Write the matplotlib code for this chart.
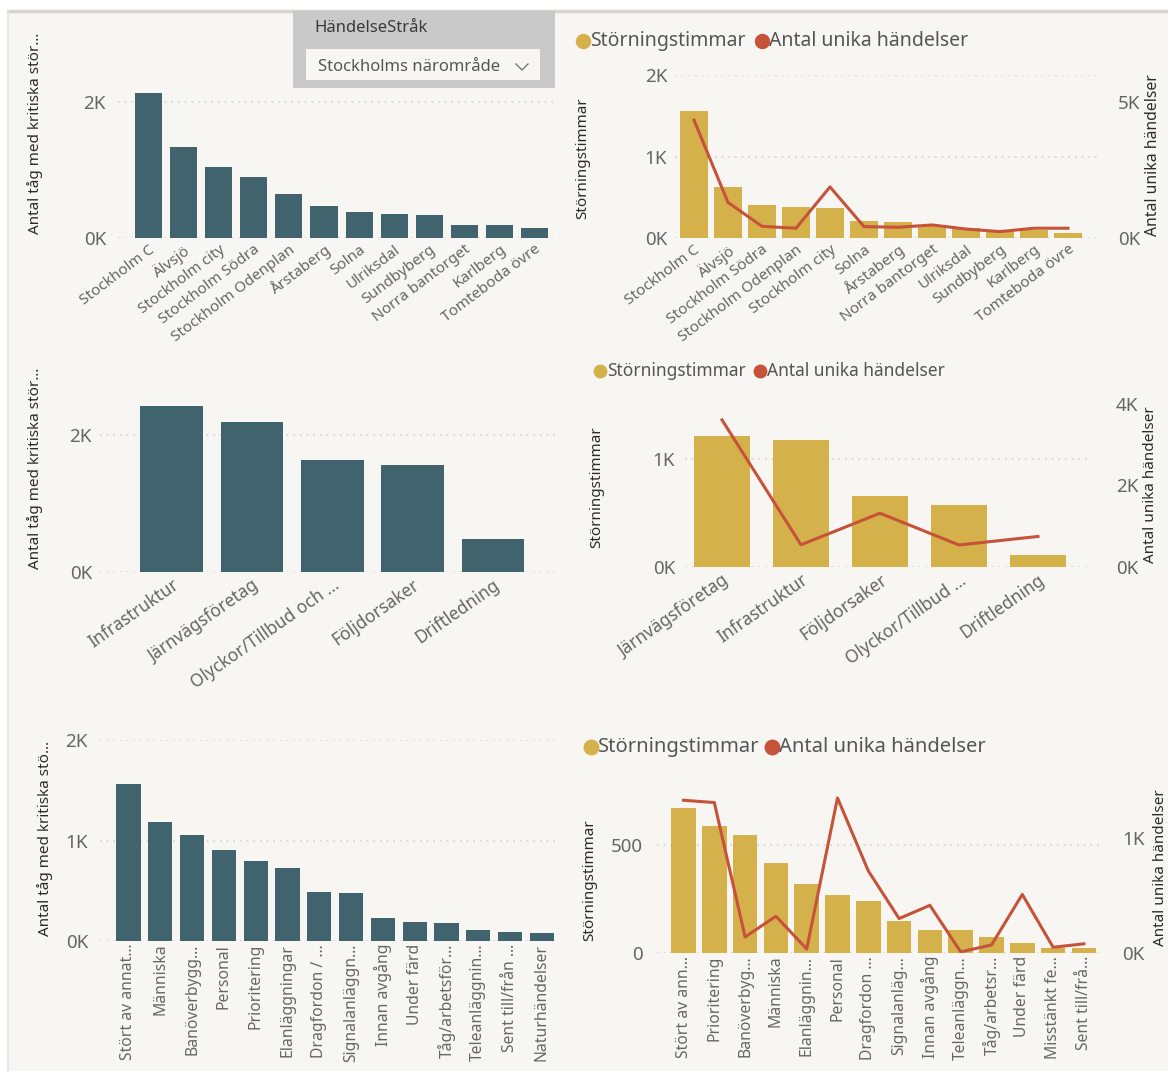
import matplotlib
matplotlib.use("Agg")
import matplotlib.pyplot as plt
from matplotlib.lines import Line2D
from matplotlib.patches import Rectangle
from matplotlib.ticker import FuncFormatter

plt.rcParams['font.family'] = ['Noto Sans', 'DejaVu Sans']

# Stations - trains with critical disturbances
tl_stations = ["Stockholm C", "Älvsjö", "Stockholm city", "Stockholm Södra", "Stockholm Odenplan",
               "Årstaberg", "Solna", "Ulriksdal", "Sundbyberg", "Norra bantorget", "Karlberg",
               "Tomteboda övre"]
tl_trains = [2130, 1340, 1050, 890, 640, 465, 380, 350, 345, 190, 185, 145]

# Stations - disturbance hours and unique events
tr_stations = ["Stockholm C", "Älvsjö", "Stockholm Södra", "Stockholm Odenplan", "Stockholm city",
               "Solna", "Årstaberg", "Norra bantorget", "Ulriksdal", "Sundbyberg", "Karlberg",
               "Tomteboda övre"]
tr_hours = [1560, 630, 410, 375, 370, 210, 195, 160, 125, 100, 100, 65]
tr_events = [4340, 1310, 430, 360, 1880, 420, 395, 480, 330, 235, 360, 360]

# Cause groups
ml_causes = ["Infrastruktur", "Järnvägsföretag", "Olyckor/Tillbud och …", "Följdorsaker", "Driftledning"]
ml_trains = [2430, 2200, 1635, 1560, 483]

mr_causes = ["Järnvägsföretag", "Infrastruktur", "Följdorsaker", "Olyckor/Tillbud …", "Driftledning"]
mr_hours = [1213, 1176, 660, 570, 112]
mr_events = [3610, 545, 1320, 540, 750]

# Detailed causes
bl_causes = ["Stört av annat…", "Människa", "Banöverbygg…", "Personal", "Prioritering",
             "Elanläggningar", "Dragfordon / …", "Signalanläggn…", "Innan avgång", "Under färd",
             "Tåg/arbetsför…", "Teleanläggnin…", "Sent till/från …", "Naturhändelser"]
bl_trains = [1562, 1184, 1055, 905, 796, 726, 488, 478, 229, 189, 179, 109, 90, 80]

br_causes = ["Stört av ann…", "Prioritering", "Banöverbyg…", "Människa", "Elanläggnin…",
             "Personal", "Dragfordon …", "Signalanläg…", "Innan avgång", "Teleanläggn…",
             "Tåg/arbetsr…", "Under färd", "Misstänkt fe…", "Sent till/frå…"]
br_hours = [670, 590, 545, 415, 322, 268, 242, 150, 108, 108, 72, 45, 24, 24]
br_events = [1330, 1310, 140, 320, 35, 1350, 715, 300, 415, 10, 70, 510, 50, 80]

W, H = 1168, 1075
BG = "#f8f6f2"
TEAL = "#41636d"
GOLD = "#d5b14c"
RED = "#c6523a"
TICK_GREY = "#666666"
LABEL_DARK = "#2b2b2b"
TICK_SIZE = 13.5

fig = plt.figure(figsize=(W / 100, H / 100), dpi=100, facecolor="white")


def fx(x):
    return x / W


def fy(y):
    return 1 - y / H


def add_ax(x0, y0, x1, y1):
    return fig.add_axes([fx(x0), fy(y1), (x1 - x0) / W, (y1 - y0) / H])


def k_fmt(v, pos):
    return f"{v / 1000:.0f}K"


def style(ax, yticks, pad_px, fmt=True):
    ax.set_facecolor("none")
    for s in ax.spines.values():
        s.set_visible(False)
    ax.tick_params(length=0, labelsize=TICK_SIZE, labelcolor=TICK_GREY)
    ax.tick_params(axis="y", pad=pad_px * 0.72)
    ax.set_yticks(yticks)
    if fmt:
        ax.yaxis.set_major_formatter(FuncFormatter(k_fmt))
    ax.grid(axis="y", color="#d2d2d2", linestyle=(0, (1, 3)), linewidth=1.2)
    ax.set_axisbelow(True)


def xrange_for(x0, x1, first_center, pitch):
    lo = -(first_center - x0) / pitch
    return lo, lo + (x1 - x0) / pitch


def xlabels(ax, labels, rot, size):
    ax.set_xticks(range(len(labels)))
    if rot == 90:
        ax.set_xticklabels(labels, rotation=90, ha="center", va="top", color=TICK_GREY,
                           fontsize=size)
        ax.tick_params(axis="x", pad=2)
    else:
        ax.set_xticklabels(labels, rotation=rot, ha="right", va="top",
                           rotation_mode="anchor", color=TICK_GREY, fontsize=size)
        ax.tick_params(axis="x", pad=3)


def right_axis(ax, ylim, ticks, pad_px):
    ax2 = ax.twinx()
    ax2.set_ylim(*ylim)
    ax2.set_yticks(ticks)
    ax2.yaxis.set_major_formatter(FuncFormatter(k_fmt))
    ax2.tick_params(length=0, labelsize=TICK_SIZE, labelcolor=TICK_GREY, pad=pad_px * 0.72)
    for s in ax2.spines.values():
        s.set_visible(False)
    return ax2


def ylabel(x, y, text, size=11):
    fig.text(fx(x), fy(y), text, rotation=90, ha="center", va="center",
             fontsize=size, color=LABEL_DARK, fontweight="semibold")


def legend_row(y, x_gold, x_red, size):
    for xc, col, txt in [(x_gold, GOLD, "Störningstimmar"), (x_red, RED, "Antal unika händelser")]:
        fig.add_artist(Line2D([fx(xc)], [fy(y)], marker="o", markersize=size * 0.72,
                              color=col, transform=fig.transFigure))
        fig.text(fx(xc + 7), fy(y), txt, fontsize=size, color="#555555",
                 va="center", ha="left")


# page background and borders
fig.patches.append(Rectangle((fx(8), fy(1071)), 1 - fx(8), fy(12) - fy(1071),
                             transform=fig.transFigure, facecolor=BG, edgecolor="none",
                             zorder=-10))
fig.add_artist(Line2D([fx(8), 1], [fy(11), fy(11)], color="#d6d4d0", lw=2.5,
                      transform=fig.transFigure, zorder=-5))
fig.add_artist(Line2D([fx(8), fx(8)], [fy(11), fy(1071)], color="#e4e2de", lw=1.2,
                      transform=fig.transFigure, zorder=-5))

# ---- top left: trains per station
ax = add_ax(118, 85, 558, 238)
style(ax, [0, 2000], 12)
ax.bar(range(len(tl_stations)), tl_trains, width=0.77, color=TEAL)
ax.set_ylim(0, 2250)
ax.set_xlim(*xrange_for(118, 558, 148.5, 35.1))
xlabels(ax, tl_stations, 37, 11)
ylabel(35, 133, "Antal tåg med kritiska stör…")

# ---- top right: hours and events per station
ax = add_ax(675, 75, 1100, 238)
style(ax, [0, 1000, 2000], 8)
ax.bar(range(len(tr_stations)), tr_hours, width=0.82, color=GOLD)
ax.set_ylim(0, 2000)
ax.set_xlim(*xrange_for(675, 1100, 694, 34.0))
xlabels(ax, tr_stations, 37, 11)
ax2 = right_axis(ax, (0, 6000), [0, 5000], 18)
ax2.plot(range(len(tr_stations)), tr_events, color=RED, lw=2.2)
ylabel(583, 158, "Störningstimmar")
ylabel(1153, 155, "Antal unika händelser", 11.3)
legend_row(41, 583, 762, 14)

# ---- middle left: trains per cause group
ax = add_ax(100, 401, 555, 572)
style(ax, [0, 2000], 8)
ax.bar(range(len(ml_causes)), ml_trains, width=0.78, color=TEAL)
ax.set_ylim(0, 2500)
ax.set_xlim(*xrange_for(100, 555, 171.5, 80.4))
xlabels(ax, ml_causes, 35, 12.5)
ylabel(35, 468, "Antal tåg med kritiska stör…")

# ---- middle right: hours and events per cause group
ax = add_ax(685, 404, 1090, 567)
style(ax, [0, 1000], 10)
ax.bar(range(len(mr_causes)), mr_hours, width=0.72, color=GOLD)
ax.set_ylim(0, 1509)
ax.set_xlim(*xrange_for(685, 1090, 722, 79))
xlabels(ax, mr_causes, 35, 12.5)
ax2 = right_axis(ax, (0, 4000), [0, 2000, 4000], 26)
ax2.plot(range(len(mr_causes)), mr_events, color=RED, lw=2.2)
ylabel(597, 487, "Störningstimmar")
ylabel(1150, 485, "Antal unika händelser")
legend_row(371, 600, 760, 12.5)

# ---- bottom left: trains per detailed cause
ax = add_ax(100, 740, 560, 941)
style(ax, [0, 1000, 2000], 12)
ax.bar(range(len(bl_causes)), bl_trains, width=0.76, color=TEAL)
ax.set_ylim(0, 2000)
ax.set_xlim(*xrange_for(100, 560, 128.5, 31.8))
xlabels(ax, bl_causes, 90, 11.3)
ylabel(45, 838, "Antal tåg med kritiska stö…")

# ---- bottom right: hours and events per detailed cause
ax = add_ax(657, 789, 1100, 953)
style(ax, [0, 500], 14, fmt=False)
ax.bar(range(len(br_causes)), br_hours, width=0.8, color=GOLD)
ax.set_ylim(0, 760)
ax.set_xlim(*xrange_for(657, 1100, 683.5, 30.8))
xlabels(ax, br_causes, 90, 11.3)
ax2 = right_axis(ax, (0, 1428), [0, 1000], 22)
ax2.plot(range(len(br_causes)), br_events, color=RED, lw=2.2)
ylabel(590, 880, "Störningstimmar")
ylabel(1161, 868, "Antal unika händelser")
legend_row(747, 591, 772, 14.5)

# ---- slicer box
fig.patches.append(Rectangle((fx(293), fy(88)), fx(555) - fx(293), fy(11) - fy(88),
                             transform=fig.transFigure, facecolor="#c9c9c9",
                             edgecolor="none", zorder=1))
fig.patches.append(Rectangle((fx(306), fy(80)), fx(540) - fx(306), fy(49) - fy(80),
                             transform=fig.transFigure, facecolor="#f7f6f3",
                             edgecolor="none", zorder=1))
fig.text(fx(314), fy(28), "HändelseStråk", fontsize=12, color="#3a3a3a", va="center")
fig.text(fx(318), fy(67), "Stockholms närområde", fontsize=12, color="#555555", va="center")
fig.add_artist(Line2D([fx(516), fx(522), fx(528)], [fy(64), fy(70), fy(64)], color="#777777",
                      lw=1, transform=fig.transFigure))

fig.savefig("out.png", dpi=100, facecolor=fig.get_facecolor())
